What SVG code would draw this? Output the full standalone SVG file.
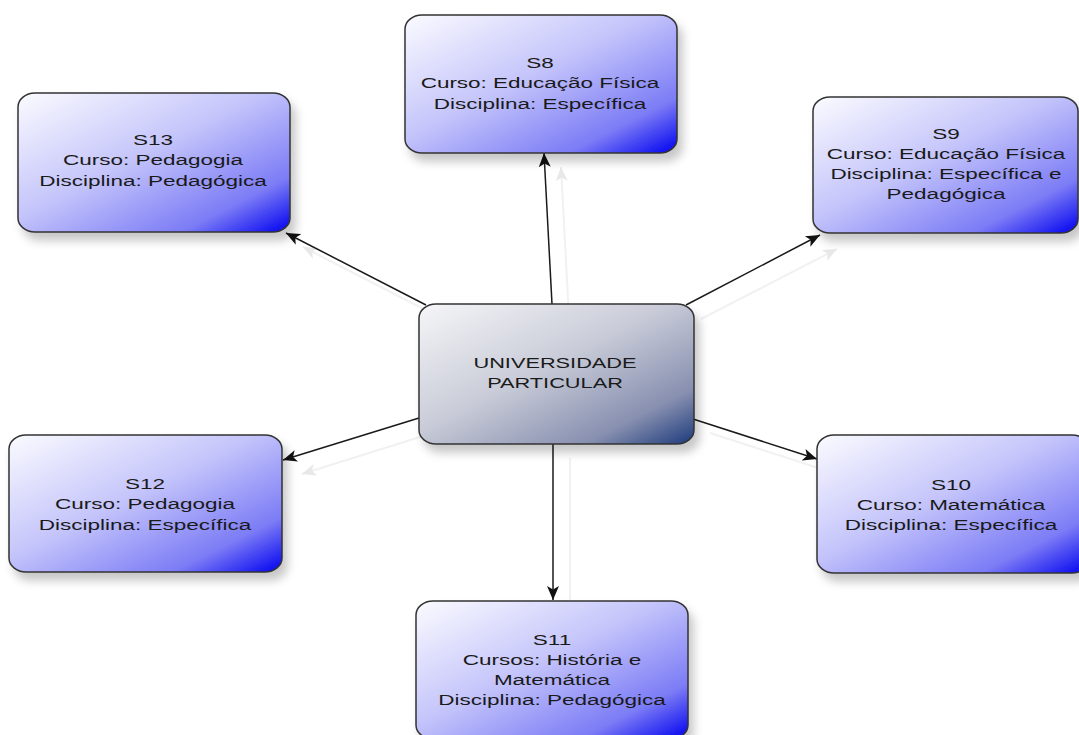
<svg xmlns="http://www.w3.org/2000/svg" width="1079" height="735" viewBox="0 0 1079 735">
<defs>
<style>
.box{fill:url(#gBlue);stroke:#333;stroke-width:1.5;filter:url(#sh)}
.hub{fill:url(#gHub);stroke:#333;stroke-width:1.5;filter:url(#sh)}
.t{font-family:"Liberation Sans",Arial,sans-serif;font-size:15px;fill:#1a1a1a;text-anchor:middle}
.ln{stroke:#1a1a1a;stroke-width:1.5;fill:none;marker-end:url(#arr)}
.lns{stroke:#f1f1f1;stroke-width:2;fill:none;marker-end:url(#arrs)}
</style>
<linearGradient id="gBlue" x1="0" y1="0" x2="1" y2="1">
<stop offset="0" stop-color="#fbfbff"/>
<stop offset="0.45" stop-color="#c4c4fb"/>
<stop offset="0.8" stop-color="#7c7cf6"/>
<stop offset="1" stop-color="#0000f0"/>
</linearGradient>
<linearGradient id="gHub" x1="0" y1="0" x2="1" y2="1">
<stop offset="0" stop-color="#f6f6f8"/>
<stop offset="0.45" stop-color="#c9ccd8"/>
<stop offset="0.8" stop-color="#8890b0"/>
<stop offset="1" stop-color="#1c3a7c"/>
</linearGradient>
<filter id="sh" x="-10%" y="-10%" width="130%" height="140%">
<feDropShadow dx="5" dy="8" stdDeviation="5" flood-color="#000" flood-opacity="0.22"/>
</filter>
<marker id="arr" markerUnits="userSpaceOnUse" markerWidth="16" markerHeight="14" refX="14" refY="7" orient="auto">
<path d="M0,1 L14,7 L0,13 L3.5,7 z" fill="#111"/>
</marker>
<marker id="arrs" markerUnits="userSpaceOnUse" markerWidth="16" markerHeight="14" refX="14" refY="7" orient="auto">
<path d="M0,1 L14,7 L0,13 L3.5,7 z" fill="#e8e8e8"/>
</marker>
</defs>
<rect width="1079" height="735" fill="#ffffff"/>
<g id="connectors">
<line class="lns" x1="569" y1="318" x2="561" y2="167"/>
<line class="lns" x1="443" y1="319" x2="303" y2="247"/>
<line class="lns" x1="701" y1="319" x2="837" y2="249"/>
<line class="lns" x1="710" y1="433" x2="834" y2="473"/>
<line class="lns" x1="570" y1="458" x2="570" y2="614"/>
<line class="lns" x1="436" y1="432" x2="302" y2="474"/>
<line class="ln" x1="552" y1="304" x2="544" y2="153"/>
<line class="ln" x1="426" y1="305" x2="286" y2="233"/>
<line class="ln" x1="686" y1="305" x2="820" y2="235"/>
<line class="ln" x1="693" y1="419" x2="817" y2="459"/>
<line class="ln" x1="553" y1="444" x2="553" y2="600"/>
<line class="ln" x1="419" y1="418" x2="283" y2="460"/>
</g>
<g id="hub">
<rect class="hub" x="419" y="304" width="275" height="140" rx="17" ry="14"/>
<g class="t" transform="translate(555,0) scale(1.45,1)"><text><tspan x="0" y="368.5">UNIVERSIDADE</tspan><tspan x="0" y="388.5">PARTICULAR</tspan></text></g>
</g>
<g id="s8">
<rect class="box" x="405" y="15" width="272" height="138" rx="17" ry="14"/>
<g class="t" transform="translate(540,0) scale(1.5,1)"><text><tspan x="0" y="68">S8</tspan><tspan x="0" y="88.5">Curso: Educação Física</tspan><tspan x="0" y="109">Disciplina: Específica</tspan></text></g>
</g>
<g id="s13">
<rect class="box" x="18" y="93" width="272" height="139" rx="17" ry="14"/>
<g class="t" transform="translate(153,0) scale(1.5,1)"><text><tspan x="0" y="145">S13</tspan><tspan x="0" y="165.5">Curso: Pedagogia</tspan><tspan x="0" y="186">Disciplina: Pedagógica</tspan></text></g>
</g>
<g id="s9">
<rect class="box" x="813" y="97" width="265" height="136" rx="17" ry="14"/>
<g class="t" transform="translate(946,0) scale(1.5,1)"><text><tspan x="0" y="139">S9</tspan><tspan x="0" y="159">Curso: Educação Física</tspan><tspan x="0" y="179">Disciplina: Específica e</tspan><tspan x="0" y="199">Pedagógica</tspan></text></g>
</g>
<g id="s10">
<rect class="box" x="817" y="435" width="272" height="138" rx="17" ry="14"/>
<g class="t" transform="translate(951,0) scale(1.5,1)"><text><tspan x="0" y="490">S10</tspan><tspan x="0" y="510">Curso: Matemática</tspan><tspan x="0" y="530">Disciplina: Específica</tspan></text></g>
</g>
<g id="s11">
<rect class="box" x="416" y="601" width="272" height="138" rx="17" ry="14"/>
<g class="t" transform="translate(552,0) scale(1.5,1)"><text><tspan x="0" y="645">S11</tspan><tspan x="0" y="665">Cursos: História e</tspan><tspan x="0" y="685">Matemática</tspan><tspan x="0" y="705">Disciplina: Pedagógica</tspan></text></g>
</g>
<g id="s12">
<rect class="box" x="9" y="435" width="273" height="137" rx="17" ry="14"/>
<g class="t" transform="translate(145,0) scale(1.5,1)"><text><tspan x="0" y="489">S12</tspan><tspan x="0" y="509.5">Curso: Pedagogia</tspan><tspan x="0" y="530">Disciplina: Específica</tspan></text></g>
</g>
</svg>
